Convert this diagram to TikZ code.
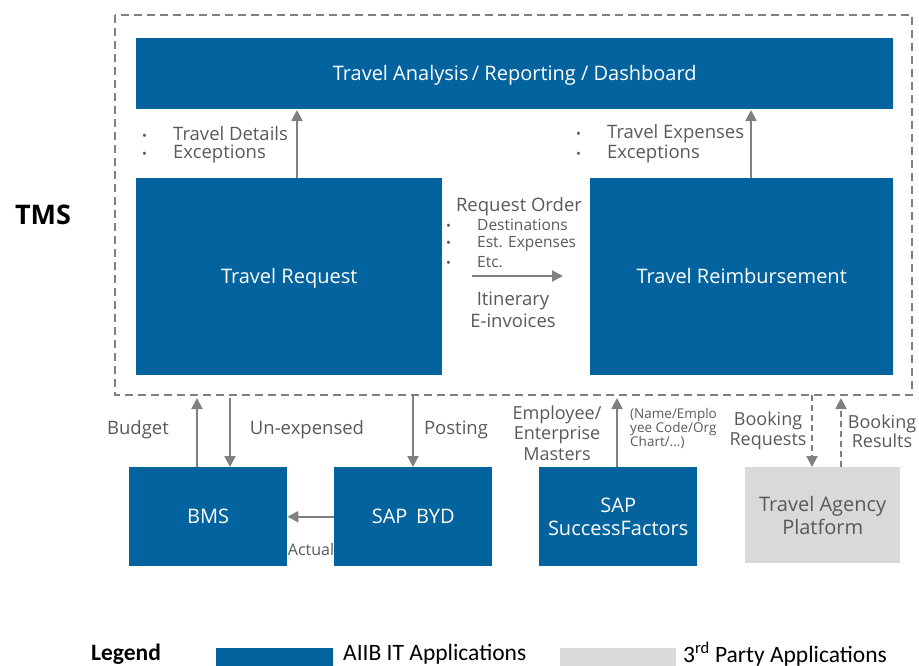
\documentclass[tikz,border=0pt]{standalone}
\usepackage{fontspec}
\setmainfont{Open Sans}
\newfontfamily\legendfont{Carlito}
\usetikzlibrary{arrows.meta}
\definecolor{aiib}{HTML}{03639E}
\definecolor{thirdp}{HTML}{D9D9D9}
\definecolor{flow}{HTML}{808080}
\definecolor{txt}{HTML}{595959}
\tikzset{
  app/.style={fill=aiib, draw=none, text=white, align=center, inner sep=0pt,
              font=\fontsize{20}{23}\selectfont},
  oneline/.style={text height=14.5pt, text depth=0pt},
  extapp/.style={fill=thirdp, draw=none, text=txt, align=center, inner sep=0pt,
              font=\fontsize{20}{23}\selectfont},
  lbl/.style={text=txt, font=\fontsize{18.5}{20}\selectfont, inner sep=0pt, align=center},
  smalllbl/.style={text=txt, font=\fontsize{13.5}{14}\selectfont, inner sep=0pt, align=left},
  flowarrow/.style={draw=flow, line width=2pt, -{Triangle[length=11pt,width=11pt]}},
  dashflow/.style={flowarrow, dash pattern=on 6pt off 4pt},
  boundary/.style={draw=flow, line width=2pt, dash pattern=on 8pt off 5pt},
  legtext/.style={font=\legendfont\fontsize{23.5}{25}\selectfont, anchor=west, inner sep=0pt},
}
% bullet item: bullet, then text starting at a fixed indent
\newcommand{\bitem}[2]{\makebox[#1][l]{\fontsize{13}{13}\selectfont\textbullet}#2}
\begin{document}
\begin{tikzpicture}[x=1pt,y=-1pt]
\useasboundingbox (0,0) rectangle (919,665);

% TMS boundary
\draw[boundary] (115,15) rectangle (912,395);
\node[font=\bfseries\fontsize{27}{29}\selectfont, anchor=center, inner sep=0pt] (tms) at (43,215) {TMS};

% application boxes
\node[app, oneline, minimum width=757pt, minimum height=71pt, anchor=north west] (dash) at (136,38) {Travel Analysis\,/ Reporting / Dashboard};
\node[app, oneline, minimum width=306pt, minimum height=197pt, anchor=north west] (treq) at (136,178) {Travel Request};
\node[app, oneline, minimum width=303pt, minimum height=197pt, anchor=north west] (treim) at (590,178) {Travel Reimbursement};
\node[app, oneline, minimum width=158pt, minimum height=99pt, anchor=north west] (bms) at (129,467) {BMS};
\node[app, oneline, minimum width=158pt, minimum height=99pt, anchor=north west] (byd) at (334,467) {SAP\, BYD};
\node[app, minimum width=158pt, minimum height=99pt, anchor=north west] (sf) at (539,467) {SAP\\SuccessFactors};
\node[extapp, minimum width=155pt, minimum height=96pt, anchor=north west] (tap) at (745,467) {Travel Agency\\Platform};

% connector ends on the boundary / bar
\coordinate (dashA) at (297,110);
\coordinate (dashB) at (751,110);
\coordinate (bTop1) at (197,398);
\coordinate (bTop2) at (230,398);
\coordinate (bTop3) at (413,395);
\coordinate (bTop4) at (617,398);
\coordinate (bTop5) at (812,395);
\coordinate (bTop6) at (841,398);

% flows inside TMS
\draw[flowarrow] (treq.north -| dashA) -- (dashA);
\draw[flowarrow] (treim.north -| dashB) -- (dashB);
\coordinate (midL) at (472,276);
\coordinate (midR) at (563,276);
\draw[flowarrow] (midL) -- (midR);

% labels inside TMS
\node[lbl, anchor=west] (tdl1) at (142,134) {\bitem{31pt}{Travel Details}};
\node[lbl, anchor=west] (tdl2) at (142,154) {\bitem{31pt}{Exceptions}};
\node[lbl, anchor=west] (tel1) at (576,134) {\bitem{31pt}{Travel Expenses}};
\node[lbl, anchor=west] (tel2) at (576,154) {\bitem{31pt}{Exceptions}};

\node[lbl] (ro) at (519,207) {Request Order};
\node[lbl, anchor=west, font=\fontsize{15.5}{17}\selectfont] (ro1) at (446,225) {\bitem{31pt}{Destinations}};
\node[lbl, anchor=west, font=\fontsize{15.5}{17}\selectfont] (ro2) at (446,244) {\bitem{31pt}{Est. Expenses}};
\node[lbl, anchor=west, font=\fontsize{15.5}{17}\selectfont] (ro3) at (446,262) {\bitem{31pt}{Etc.}};
\node[lbl] (itin) at (513,301) {Itinerary};
\node[lbl] (einv) at (513,321) {E-invoices};

% flows between TMS and the other applications
\draw[flowarrow] (bms.north -| bTop1) -- (bTop1);
\draw[flowarrow] (bTop2) -- (bms.north -| bTop2);
\draw[flowarrow] (bTop3) -- (byd.north -| bTop3);
\draw[flowarrow] (byd.west) -- (bms.east);
\draw[flowarrow] (sf.north -| bTop4) -- (bTop4);
\draw[dashflow] (bTop5) -- (tap.north -| bTop5);
\draw[dashflow] (tap.north -| bTop6) -- (bTop6);

\node[lbl] (budget) at (138,430) {Budget};
\node[lbl] (unexp) at (307,430) {Un-expensed};
\node[lbl] (posting) at (456,430) {Posting};
\node[lbl, font=\fontsize{16}{18}\selectfont] (actual) at (311,549) {Actual};
\node[lbl, font=\fontsize{18}{20.5}\selectfont] (empm) at (557,433) {Employee/\\Enterprise\\Masters};
\node[smalllbl, anchor=north west] (empd) at (630,408) {(Name/Emplo\\yee Code/Org\\Chart/...)};
\node[lbl, font=\fontsize{18}{19.5}\selectfont] (breq) at (768,431) {Booking\\Requests};
\node[lbl, font=\fontsize{18}{19.5}\selectfont] (bres) at (882,431) {Booking\\Results};

% legend
\node[legtext, font=\legendfont\bfseries\fontsize{23.5}{25}\selectfont] (leg) at (91,654) {Legend};
\node[fill=aiib, minimum width=117pt, minimum height=18pt, anchor=north west, inner sep=0pt] (legA) at (216,648) {};
\node[legtext] (legAt) at (343,654) {AIIB IT Applications};
\node[fill=thirdp, minimum width=116pt, minimum height=18pt, anchor=north west, inner sep=0pt] (legB) at (560,648) {};
\node[legtext] (legBt) at (683,654) {3\textsuperscript{rd} Party Applications};
\end{tikzpicture}
\end{document}
